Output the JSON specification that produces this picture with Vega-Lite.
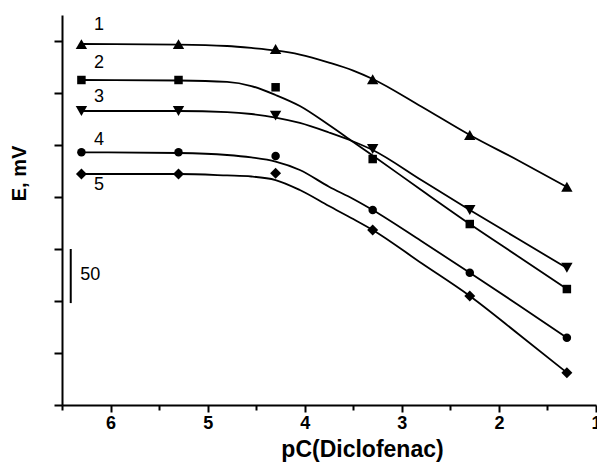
{
  "$schema": "https://vega.github.io/schema/vega-lite/v6.json",
  "width": 534,
  "height": 390,
  "autosize": {"type": "none"},
  "padding": {"left": 62, "top": 15, "right": 1, "bottom": 57},
  "background": "white",
  "config": {
    "view": {"stroke": null},
    "font": "Liberation Sans",
    "axis": {"domainColor": "black", "domainWidth": 2, "tickColor": "black", "tickWidth": 2, "grid": false, "labelColor": "black", "titleColor": "black"}
  },
  "datasets": {
    "points": [
      {"s": "1", "pc": 6.3, "e": 347}, {"s": "1", "pc": 5.3, "e": 347}, {"s": "1", "pc": 4.3, "e": 342.3}, {"s": "1", "pc": 3.3, "e": 313.2}, {"s": "1", "pc": 2.3, "e": 259.6}, {"s": "1", "pc": 1.3, "e": 209.9},
      {"s": "2", "pc": 6.3, "e": 312.5}, {"s": "2", "pc": 5.3, "e": 312.5}, {"s": "2", "pc": 4.3, "e": 305.5}, {"s": "2", "pc": 3.3, "e": 236.5}, {"s": "2", "pc": 2.3, "e": 174}, {"s": "2", "pc": 1.3, "e": 111.5},
      {"s": "3", "pc": 6.3, "e": 282.7}, {"s": "3", "pc": 5.3, "e": 282.7}, {"s": "3", "pc": 4.3, "e": 278.2}, {"s": "3", "pc": 3.3, "e": 246.2}, {"s": "3", "pc": 2.3, "e": 187.5}, {"s": "3", "pc": 1.3, "e": 132},
      {"s": "4", "pc": 6.3, "e": 243}, {"s": "4", "pc": 5.3, "e": 243}, {"s": "4", "pc": 4.3, "e": 239.4}, {"s": "4", "pc": 3.3, "e": 187.5}, {"s": "4", "pc": 2.3, "e": 127.2}, {"s": "4", "pc": 1.3, "e": 64.7},
      {"s": "5", "pc": 6.3, "e": 222.1}, {"s": "5", "pc": 5.3, "e": 222.1}, {"s": "5", "pc": 4.3, "e": 222.8}, {"s": "5", "pc": 3.3, "e": 168.3}, {"s": "5", "pc": 2.3, "e": 104.8}, {"s": "5", "pc": 1.3, "e": 31.1}
    ],
    "curves": [
      {"s": "1", "pc": 6.3, "e": 347.1}, {"s": "1", "pc": 5.3, "e": 346.6}, {"s": "1", "pc": 4.8, "e": 345.2}, {"s": "1", "pc": 4.55, "e": 343.3}, {"s": "1", "pc": 4.3, "e": 340.9}, {"s": "1", "pc": 4.05, "e": 337}, {"s": "1", "pc": 3.75, "e": 329.3}, {"s": "1", "pc": 3.5, "e": 321.6}, {"s": "1", "pc": 3.3, "e": 313.5}, {"s": "1", "pc": 2.8, "e": 287}, {"s": "1", "pc": 2.3, "e": 259.6}, {"s": "1", "pc": 1.8, "e": 235.1}, {"s": "1", "pc": 1.3, "e": 209.6},
      {"s": "2", "pc": 6.3, "e": 312.5}, {"s": "2", "pc": 5.3, "e": 312}, {"s": "2", "pc": 4.8, "e": 310.6}, {"s": "2", "pc": 4.55, "e": 306.7}, {"s": "2", "pc": 4.3, "e": 298.1}, {"s": "2", "pc": 4.05, "e": 287.5}, {"s": "2", "pc": 3.75, "e": 269.2}, {"s": "2", "pc": 3.5, "e": 252.9}, {"s": "2", "pc": 3.3, "e": 239.9}, {"s": "2", "pc": 2.8, "e": 206.7}, {"s": "2", "pc": 2.3, "e": 174}, {"s": "2", "pc": 1.8, "e": 142.8}, {"s": "2", "pc": 1.3, "e": 111.5},
      {"s": "3", "pc": 6.3, "e": 282.7}, {"s": "3", "pc": 5.3, "e": 282.7}, {"s": "3", "pc": 4.8, "e": 281.7}, {"s": "3", "pc": 4.55, "e": 279.8}, {"s": "3", "pc": 4.3, "e": 276.4}, {"s": "3", "pc": 4.05, "e": 271.2}, {"s": "3", "pc": 3.75, "e": 262}, {"s": "3", "pc": 3.5, "e": 253.4}, {"s": "3", "pc": 3.3, "e": 245.2}, {"s": "3", "pc": 2.8, "e": 216.3}, {"s": "3", "pc": 2.3, "e": 187.5}, {"s": "3", "pc": 1.8, "e": 159.6}, {"s": "3", "pc": 1.3, "e": 131.7},
      {"s": "4", "pc": 6.3, "e": 243}, {"s": "4", "pc": 5.3, "e": 242.3}, {"s": "4", "pc": 4.8, "e": 240.4}, {"s": "4", "pc": 4.55, "e": 238}, {"s": "4", "pc": 4.3, "e": 234.1}, {"s": "4", "pc": 4.05, "e": 226}, {"s": "4", "pc": 3.75, "e": 209.9}, {"s": "4", "pc": 3.5, "e": 198.1}, {"s": "4", "pc": 3.3, "e": 187.5}, {"s": "4", "pc": 2.8, "e": 157.7}, {"s": "4", "pc": 2.3, "e": 127.2}, {"s": "4", "pc": 1.8, "e": 96.2}, {"s": "4", "pc": 1.3, "e": 64.7},
      {"s": "5", "pc": 6.3, "e": 222.1}, {"s": "5", "pc": 5.3, "e": 222.1}, {"s": "5", "pc": 4.8, "e": 220.7}, {"s": "5", "pc": 4.55, "e": 219.7}, {"s": "5", "pc": 4.3, "e": 216.3}, {"s": "5", "pc": 4.05, "e": 206.7}, {"s": "5", "pc": 3.75, "e": 191.3}, {"s": "5", "pc": 3.5, "e": 178.8}, {"s": "5", "pc": 3.3, "e": 168.3}, {"s": "5", "pc": 2.8, "e": 136.5}, {"s": "5", "pc": 2.3, "e": 104.8}, {"s": "5", "pc": 1.8, "e": 68.3}, {"s": "5", "pc": 1.3, "e": 31.1}
    ],
    "labels": [
      {"t": "1", "pc": 6.12, "e": 365},
      {"t": "2", "pc": 6.12, "e": 328.4},
      {"t": "3", "pc": 6.12, "e": 296.4},
      {"t": "4", "pc": 6.12, "e": 254.8},
      {"t": "5", "pc": 6.12, "e": 211.5},
      {"t": "50", "pc": 6.21, "e": 125}
    ],
    "bar": [{"pc": 6.41, "e": 150, "e2": 98}]
  },
  "layer": [
    {
      "data": {"name": "curves"},
      "mark": {"type": "line", "interpolate": "monotone", "color": "black", "strokeWidth": 1.8},
      "encoding": {
        "x": {
          "field": "pc", "type": "quantitative",
          "scale": {"domain": [1, 6.5], "reverse": true, "nice": false, "zero": false},
          "axis": {
            "title": "pC(Diclofenac)",
            "values": [1, 1.5, 2, 2.5, 3, 3.5, 4, 4.5, 5, 5.5, 6, 6.5],
            "labelExpr": "datum.value % 1 === 0 ? format(datum.value, 'd') : ''",
            "tickSize": {"condition": {"test": "datum.value % 1 !== 0", "value": 5}, "value": 7},
            "labelFontSize": 18, "labelFontWeight": "bold", "labelPadding": 2,
            "labelFlush": false, "labelOverlap": false,
            "titleFontSize": 23, "titleFontWeight": "bold",
            "titleX": 300, "titleY": 51, "titleBaseline": "alphabetic", "titleAnchor": null, "titleAlign": "center"
          }
        },
        "y": {
          "field": "e", "type": "quantitative",
          "scale": {"domain": [0, 375], "nice": false, "zero": false},
          "axis": {
            "title": "E, mV",
            "values": [0, 50, 100, 150, 200, 250, 300, 350],
            "labels": false,
            "tickSize": 8,
            "titleFontSize": 20, "titleFontWeight": "bold",
            "titleX": -43, "titleY": 158, "titleAngle": -90, "titleAlign": "center", "titleBaseline": "middle", "titleAnchor": null
          }
        },
        "detail": {"field": "s"}
      }
    },
    {
      "data": {"name": "points"},
      "mark": {"type": "point", "filled": true, "opacity": 1, "color": "black"},
      "encoding": {
        "x": {"field": "pc", "type": "quantitative"},
        "y": {"field": "e", "type": "quantitative"},
        "shape": {
          "field": "s", "type": "nominal",
          "scale": {"domain": ["1", "2", "3", "4", "5"], "range": ["triangle-up", "square", "triangle-down", "circle", "diamond"]},
          "legend": null
        },
        "size": {
          "field": "s", "type": "nominal",
          "scale": {"type": "ordinal", "domain": ["1", "2", "3", "4", "5"], "range": [130, 72, 130, 72, 120]},
          "legend": null
        }
      }
    },
    {
      "data": {"name": "labels"},
      "mark": {"type": "text", "fontSize": 18, "color": "black", "align": "center", "baseline": "middle", "font": "Liberation Sans"},
      "encoding": {
        "x": {"field": "pc", "type": "quantitative"},
        "y": {"field": "e", "type": "quantitative"},
        "text": {"field": "t"}
      }
    },
    {
      "data": {"name": "bar"},
      "mark": {"type": "rule", "color": "black", "strokeWidth": 2},
      "encoding": {
        "x": {"field": "pc", "type": "quantitative"},
        "y": {"field": "e", "type": "quantitative"},
        "y2": {"field": "e2"}
      }
    }
  ]
}
